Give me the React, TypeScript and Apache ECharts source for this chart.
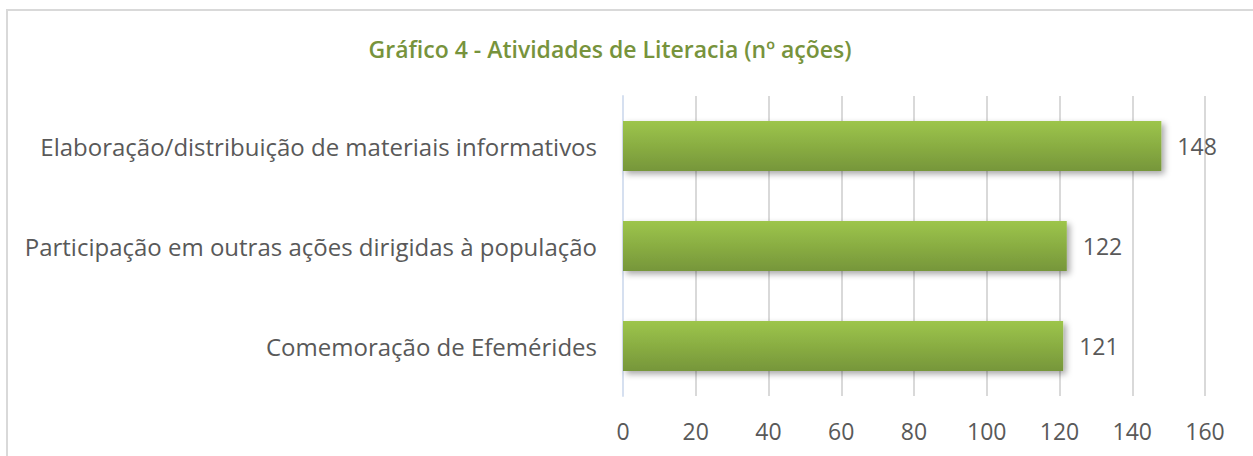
import React, { useEffect, useRef } from "react";
import * as echarts from "echarts";

const categories = [
  "Comemoração de Efemérides",
  "Participação em outras ações dirigidas à população",
  "Elaboração/distribuição de materiais informativos",
];
const values = [121, 122, 148];
const xTicks = { min: 0, max: 160, interval: 20 };
const title = "Gráfico 4 - Atividades de Literacia (nº ações)";

export default function App() {
  const ref = useRef<HTMLDivElement>(null);
  useEffect(() => {
    if (!ref.current) return;
    const chart = echarts.init(ref.current, null, { renderer: "svg" });
    const font = "'Open Sans', sans-serif";
    chart.setOption({
      animation: false,
      backgroundColor: "#ffffff",
      textStyle: { fontFamily: font },
      title: {
        text: title,
        left: 605,
        textAlign: "center",
        top: 32,
        textStyle: { fontFamily: font, fontSize: 23, fontWeight: 600, color: "#77933c" },
      },
      graphic: [
        {
          type: "rect",
          shape: { x: 7, y: 10, width: 1260, height: 460 },
          style: { fill: "none", stroke: "#d9d9d9", lineWidth: 2 },
          silent: true,
        },
      ],
      grid: { left: 623, right: 48, top: 96, bottom: 60 },
      xAxis: {
        type: "value",
        min: xTicks.min,
        max: xTicks.max,
        interval: xTicks.interval,
        axisLine: { show: false },
        axisTick: { show: false },
        splitLine: { show: true, lineStyle: { color: "#d9d9d9", width: 2 } },
        axisLabel: { color: "#595959", fontSize: 23, fontFamily: font, margin: 23 },
      },
      yAxis: {
        type: "category",
        data: categories,
        axisLine: { show: true, lineStyle: { color: "#d6e0f0", width: 2 } },
        axisTick: { show: false },
        axisLabel: { color: "#595959", fontSize: 24, fontFamily: font, margin: 26 },
      },
      series: [
        {
          type: "bar",
          data: values,
          barWidth: "50%",
          itemStyle: {
            color: new echarts.graphic.LinearGradient(0, 0, 0, 1, [
              { offset: 0, color: "#9dc54b" },
              { offset: 1, color: "#76963a" },
            ]),
            shadowColor: "rgba(0,0,0,0.35)",
            shadowBlur: 6,
            shadowOffsetX: 3,
            shadowOffsetY: 3,
          },
          label: {
            show: true,
            position: "right",
            distance: 16,
            color: "#595959",
            fontSize: 23,
            fontFamily: font,
          },
        },
      ],
    });
    return () => chart.dispose();
  }, []);
  return (
    <div
      ref={ref}
      style={{ position: "fixed", left: 0, top: 0, width: 1253, height: 456 }}
    />
  );
}
